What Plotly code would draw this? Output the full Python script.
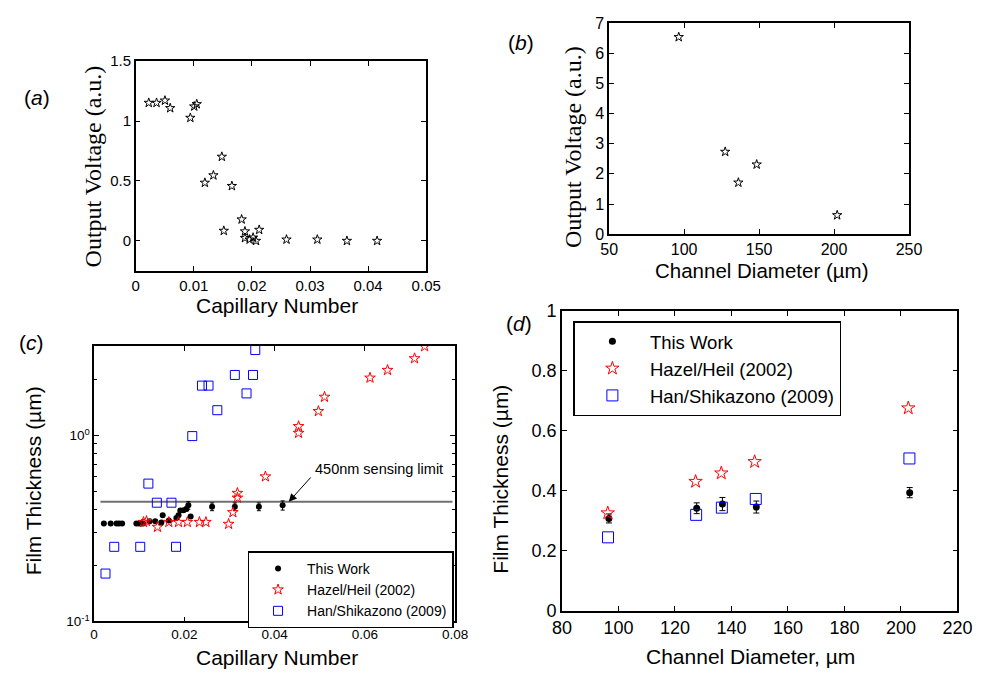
import math
import plotly.graph_objects as go

# ---------------- data ----------------
# (a) output voltage vs capillary number
a_ca = [0.00224, 0.00358, 0.00503, 0.00593, 0.0094, 0.01007, 0.0105, 0.0119, 0.01337,
        0.01482, 0.01655, 0.01516, 0.01823, 0.0188, 0.0188, 0.0196, 0.0202, 0.0207,
        0.02125, 0.02595, 0.03126, 0.03635, 0.04155]
a_v = [1.152, 1.152, 1.171, 1.108, 1.027, 1.122, 1.141, 0.485, 0.547,
       0.702, 0.458, 0.084, 0.179, 0.079, 0.024, 0.011, 0.027, 0.0,
       0.092, 0.011, 0.011, 0.0, 0.0]

# (b) output voltage vs channel diameter
b_d = [96.4, 127.4, 136.2, 148.4, 202.1]
b_v = [6.53, 2.73, 1.71, 2.31, 0.63]

# (c) film thickness vs capillary number
c_work_ca = [0.00216, 0.00367, 0.00497, 0.00554, 0.0062, 0.00936, 0.00994, 0.01044, 0.01087,
             0.01231, 0.01354, 0.0149, 0.0152, 0.01656, 0.01822, 0.0187, 0.0191, 0.0198,
             0.02045, 0.02088, 0.02139, 0.02614, 0.03118, 0.03651, 0.04177]
c_work_h = [0.336, 0.336, 0.336, 0.336, 0.336, 0.336, 0.336, 0.336, 0.336,
            0.346, 0.346, 0.340, 0.373, 0.349, 0.360, 0.372, 0.395, 0.396,
            0.403, 0.421, 0.367, 0.414, 0.414, 0.414, 0.421]
c_work_err = [0.005, 0.005, 0.005, 0.005, 0.005, 0.005, 0.005, 0.005, 0.005,
              0.005, 0.005, 0.005, 0.005, 0.005, 0.005, 0.005, 0.008, 0.008,
              0.01, 0.02, 0.005, 0.02, 0.02, 0.02, 0.024]
c_hazel_ca = [0.01094, 0.0116, 0.01404, 0.01656, 0.0187, 0.02066, 0.02333, 0.02477, 0.0298,
              0.03075, 0.03175, 0.03175, 0.03795, 0.0453, 0.0453, 0.0497, 0.05105, 0.06113,
              0.06502, 0.071, 0.07323]
c_hazel_h = [0.342, 0.346, 0.322, 0.342, 0.342, 0.342, 0.342, 0.342, 0.334,
             0.386, 0.462, 0.490, 0.601, 1.12, 1.03, 1.35, 1.61, 2.04,
             2.245, 2.594, 3.01]
c_han_ca = [0.00252, 0.00446, 0.01022, 0.01815, 0.01202, 0.0139, 0.01714, 0.02175, 0.0239,
            0.02535, 0.0273, 0.03118, 0.03377, 0.03521, 0.03571]
c_han_h = [0.181, 0.252, 0.252, 0.252, 0.551, 0.435, 0.435, 0.992, 1.853,
           1.853, 1.367, 2.115, 1.683, 2.115, 2.878]
SENSING_LIMIT = 0.44
SENSING_X = [0.0014, 0.0794]

# (d) film thickness vs channel diameter
d_work_d = [96.6, 127.7, 136.8, 148.8, 203.1]
d_work_h = [0.308, 0.342, 0.356, 0.346, 0.394]
d_work_err = [0.015, 0.018, 0.022, 0.020, 0.017]
d_hazel_d = [96.2, 127.3, 136.4, 148.2, 202.6]
d_hazel_h = [0.326, 0.431, 0.459, 0.497, 0.676]
d_han_d = [96.3, 127.5, 136.6, 148.6, 203.0]
d_han_h = [0.245, 0.320, 0.344, 0.373, 0.508]

LEGEND_NAMES = ["This Work", "Hazel/Heil (2002)", "Han/Shikazono (2009)"]

# ---------------- figure ----------------
W, H = 989, 681
SANS = "Liberation Sans, Arial, sans-serif"
SERIF = "Liberation Serif, Times New Roman, serif"
RED = "#ff0000"
BLUE = "#0000ff"


def px(x):
    return x / W


def py(y):
    return 1 - y / H


fig = go.Figure()

# (a)
fig.add_trace(go.Scatter(x=a_ca, y=a_v, mode="markers", xaxis="x", yaxis="y", showlegend=False,
                         marker=dict(symbol="star-open", size=7, color="black", line=dict(width=1))))
# (b)
fig.add_trace(go.Scatter(x=b_d, y=b_v, mode="markers", xaxis="x2", yaxis="y2", showlegend=False,
                         marker=dict(symbol="star-open", size=7, color="black", line=dict(width=1))))
# (c)
fig.add_trace(go.Scatter(x=SENSING_X, y=[SENSING_LIMIT, SENSING_LIMIT], mode="lines", xaxis="x3", yaxis="y3",
                         showlegend=False, line=dict(color="#707070", width=2), hoverinfo="skip"))
fig.add_trace(go.Scatter(x=c_work_ca, y=c_work_h, mode="markers", xaxis="x3", yaxis="y3",
                         name=LEGEND_NAMES[0], legend="legend",
                         error_y=dict(type="data", array=c_work_err, color="black", thickness=1, width=2),
                         marker=dict(symbol="circle", size=6, color="black")))
fig.add_trace(go.Scatter(x=c_hazel_ca, y=c_hazel_h, mode="markers", xaxis="x3", yaxis="y3",
                         name=LEGEND_NAMES[1], legend="legend",
                         marker=dict(symbol="star-open", size=8, color=RED, line=dict(width=1))))
fig.add_trace(go.Scatter(x=c_han_ca, y=c_han_h, mode="markers", xaxis="x3", yaxis="y3",
                         name=LEGEND_NAMES[2], legend="legend",
                         marker=dict(symbol="square-open", size=9, color=BLUE, line=dict(width=1))))
# (d)
fig.add_trace(go.Scatter(x=d_work_d, y=d_work_h, mode="markers", xaxis="x4", yaxis="y4",
                         name=LEGEND_NAMES[0], legend="legend2",
                         error_y=dict(type="data", array=d_work_err, color="black", thickness=1, width=3),
                         marker=dict(symbol="circle", size=7, color="black")))
fig.add_trace(go.Scatter(x=d_hazel_d, y=d_hazel_h, mode="markers", xaxis="x4", yaxis="y4",
                         name=LEGEND_NAMES[1], legend="legend2",
                         marker=dict(symbol="star-open", size=10, color=RED, line=dict(width=1))))
fig.add_trace(go.Scatter(x=d_han_d, y=d_han_h, mode="markers", xaxis="x4", yaxis="y4",
                         name=LEGEND_NAMES[2], legend="legend2",
                         marker=dict(symbol="square-open", size=11, color=BLUE, line=dict(width=1))))


def axis_style(size, **kw):
    d = dict(showline=True, linecolor="black", linewidth=1.5, mirror="ticks", ticks="inside",
             ticklen=5, tickwidth=1, tickcolor="black", showgrid=False, zeroline=False,
             tickfont=dict(family=SANS, size=size, color="black"))
    d.update(kw)
    return d


fig.update_layout(
    width=W, height=H,
    margin=dict(l=0, r=0, t=0, b=0),
    paper_bgcolor="white", plot_bgcolor="white",
    xaxis=axis_style(15, domain=[px(129), px(427)], range=[0, 0.05], dtick=0.01, anchor="y"),
    yaxis=axis_style(15, domain=[py(268.7), py(52.7)], range=[-0.25, 1.5], dtick=0.5, anchor="x"),
    xaxis2=axis_style(16, domain=[px(614.7), px(922.3)], range=[50, 250], dtick=50, anchor="y2"),
    yaxis2=axis_style(16, domain=[py(231), py(13.3)], range=[0, 7], dtick=1, anchor="x2"),
    xaxis3=axis_style(13.5, domain=[px(86.3), px(456.7)], range=[0, 0.08], dtick=0.02, anchor="y3"),
    yaxis3=axis_style(13.5, domain=[py(630), py(346)], type="log", range=[-1, 0.4817],
                      tickvals=[0.1, 1], ticktext=["10<sup>-1</sup>", "10<sup>0</sup>"], anchor="x3",
                      minor=dict(tickvals=[0.2, 0.3, 0.4, 0.5, 0.6, 0.7, 0.8, 0.9, 2, 3],
                                 ticks="inside", ticklen=3, tickcolor="black", showgrid=False)),
    xaxis4=axis_style(18, domain=[px(566.3), px(972)], range=[80, 220], dtick=20, anchor="y4"),
    yaxis4=axis_style(18, domain=[py(619), py(310)], range=[0, 1], dtick=0.2, anchor="x4"),
    legend=dict(x=px(243.7), y=py(557.7), xanchor="left", yanchor="top", bgcolor="white",
                bordercolor="black", borderwidth=1.5, itemwidth=48,
                font=dict(family=SANS, size=14, color="black")),
    legend2=dict(x=px(578), y=py(320.7), xanchor="left", yanchor="top", bgcolor="white",
                 bordercolor="black", borderwidth=1.5, itemwidth=65,
                 font=dict(family=SANS, size=18.5, color="black")),
    showlegend=True,
)

ann = []


def label(text, x, y, size, family=SANS, angle=0):
    ann.append(dict(text=text, x=px(x), y=py(y), xref="paper", yref="paper", showarrow=False,
                    xanchor="center", yanchor="middle", textangle=angle,
                    font=dict(family=family, size=size, color="black")))


# panel labels
label("(<i>a</i>)", 27.5, 90, 21)
label("(<i>b</i>)", 524, 33, 21)
label("(<i>c</i>)", 21.7, 342.5, 21)
label("(<i>d</i>)", 521.7, 323.3, 21)
# axis titles
label("Output Voltage (a.u.)", 85, 161.3, 24, SERIF, -90)
label("Capillary Number", 274, 304, 21)
label("Output Voltage (a.u.)", 577, 140.8, 24, SERIF, -90)
label("Channel Diameter (µm)", 770.8, 268, 20.5)
label("Film Thickness (µm)", 24.2, 485, 21, SANS, -90)
label("Capillary Number", 273.8, 667, 21)
label("Film Thickness (µm)", 503.3, 483.3, 21, SANS, -90)
label("Channel Diameter, µm", 760, 666, 21)

# sensing limit arrow + text (log axis -> log10 coordinates)
ann.append(dict(x=0.04313, y=math.log10(SENSING_LIMIT), xref="x3", yref="y3",
                ax=0.0483, ay=-0.2174, axref="x3", ayref="y3", text="", showarrow=True,
                arrowhead=2, arrowsize=1.6, arrowwidth=1, arrowcolor="black"))
ann.append(dict(x=0.04846, y=-0.1826, xref="x3", yref="y3", text="450nm sensing limit",
                showarrow=False, xanchor="left", yanchor="middle",
                font=dict(family=SANS, size=14.5, color="black")))

fig.update_layout(annotations=ann)

fig.write_html("out.html")
